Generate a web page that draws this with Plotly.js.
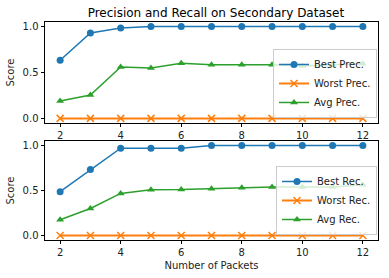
<!DOCTYPE html>
<html><head><meta charset="utf-8">
<script src="https://cdn.plot.ly/plotly-3.0.1.min.js"></script>
<style>html,body{margin:0;padding:0;background:#fff}#c{width:389px;height:278px}</style>
</head><body><div id="c"></div>
<script>
const packets = [2,3,4,5,6,7,8,9,10,11,12];
const bestPrec = [0.633,0.93,0.985,1,1,1,1,1,1,1,1];
const worstPrec = [0,0,0,0,0,0,0,0,0,0,0];
const avgPrec = [0.19,0.255,0.56,0.55,0.60,0.585,0.585,0.585,0.57,0.58,0.595];
const bestRec = [0.487,0.732,0.97,0.97,0.97,1,1,1,1,1,1];
const worstRec = [0,0,0,0,0,0,0,0,0,0,0];
const avgRec = [0.175,0.30,0.468,0.509,0.51,0.52,0.53,0.54,0.54,0.54,0.565];
const names = ['Best Prec.','Worst Prec.','Avg Prec.','Best Rec.','Worst Rec.','Avg Rec.'];

const C = ['#1f77b4','#ff7f0e','#2ca02c'];
function tr(y, name, i, xa, ya, lg){
  const sym = ['circle','x-thin-open','triangle-up'][i];
  const m = {symbol: sym, size: [7,7,7][i], color: C[i]};
  if(i===1) m.line = {color: C[i], width: 1.5};
  return {x: packets, y: y, name: name, type:'scatter', mode:'lines+markers',
    line:{color:C[i], width: i===1?2:1.5}, marker:m, xaxis:xa, yaxis:ya, legend: lg};
}
const data = [
  tr(bestPrec, names[0], 0, 'x','y','legend'),
  tr(worstPrec, names[1], 1, 'x','y','legend'),
  tr(avgPrec, names[2], 2, 'x','y','legend'),
  tr(bestRec, names[3], 0, 'x2','y2','legend2'),
  tr(worstRec, names[4], 1, 'x2','y2','legend2'),
  tr(avgRec, names[5], 2, 'x2','y2','legend2')
];
const ax = {range:[1.5,12.5], tickvals:[2,4,6,8,10,12], showline:true, mirror:true, linecolor:'#000', linewidth:1,
  ticks:'outside', ticklen:3.5, tickcolor:'#000', showgrid:false, zeroline:false, tickfont:{size:10, color:'#222'}};
const ay = {range:[-0.05,1.05], tickvals:[0,0.5,1], tickformat:'.1f', showline:true, mirror:true, linecolor:'#000', linewidth:1,
  ticks:'outside', ticklen:3.5, tickcolor:'#000', showgrid:false, zeroline:false, tickfont:{size:10, color:'#222'}};
const lg = {xanchor:'right', yanchor:'bottom', bgcolor:'rgba(255,255,255,0.8)', bordercolor:'#ccc', borderwidth:1,
  font:{size:10, color:'#222'}, tracegroupgap:0, itemwidth:30};
const layout = {
  width:389, height:278, margin:{l:45, r:11, t:0, b:0}, paper_bgcolor:'#fff', plot_bgcolor:'#fff',
  font:{family:'DejaVu Sans', size:10, color:'#222'},
  title:{text:'Precision and Recall on Secondary Dataset', x:0.555, xanchor:'center', y:0.953, yanchor:'middle', font:{size:12, color:'#000'}},
  xaxis: Object.assign({}, ax, {domain:[0,1], anchor:'y'}),
  yaxis: Object.assign({}, ay, {domain:[0.5576,0.9209], anchor:'x', title:{text:'Score', font:{size:10}, standoff:6}}),
  xaxis2: Object.assign({}, ax, {domain:[0,1], anchor:'y2', title:{text:'Number of Packets', font:{size:10}, standoff:4}}),
  yaxis2: Object.assign({}, ay, {domain:[0.1367,0.4928], anchor:'x2', title:{text:'Score', font:{size:10}, standoff:6}}),
  legend: Object.assign({}, lg, {x:0.997, y:0.5756}),
  legend2: Object.assign({}, lg, {x:0.997, y:0.1547}),
  showlegend:true
};
Plotly.newPlot('c', data, layout, {staticPlot:true, displayModeBar:false});
</script></body></html>
